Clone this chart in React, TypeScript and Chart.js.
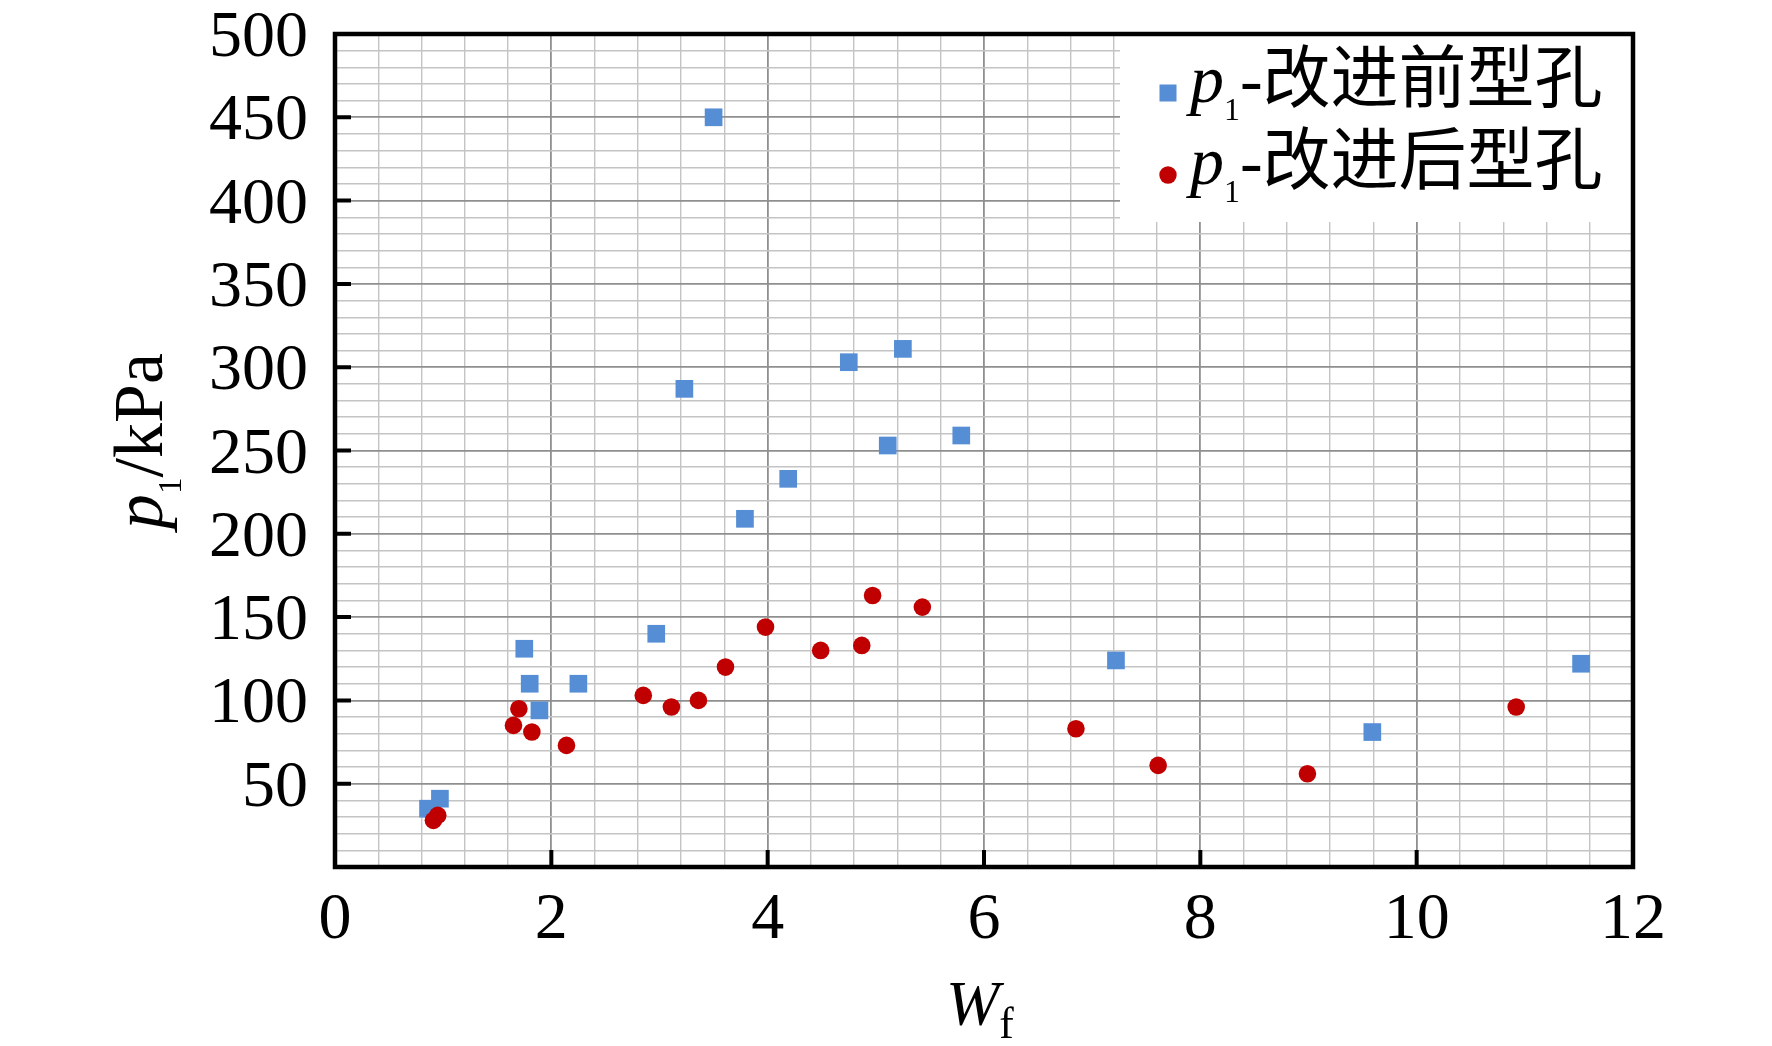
import { Chart, registerables } from "chart.js";
import { useEffect, useRef } from "react";

Chart.register(...registerables);

// W_f values and p1 (kPa)
const beforeWf = [0.86, 0.97, 1.75, 1.8, 1.89, 2.25, 2.97, 3.23, 3.5, 3.79, 4.19, 4.75, 5.11, 5.25, 5.79, 7.22, 9.59, 11.52];
const beforeP1 = [35, 41, 131, 110, 94, 110, 140, 287, 450, 209, 233, 303, 253, 311, 259, 124, 81, 122];

const afterWf = [0.91, 0.95, 1.65, 1.7, 1.82, 2.14, 2.85, 3.11, 3.36, 3.61, 3.98, 4.49, 4.87, 4.97, 5.43, 6.85, 7.61, 8.99, 10.92];
const afterP1 = [28, 31, 85, 95, 81, 73, 103, 96, 100, 120, 144, 130, 133, 163, 156, 83, 61, 56, 96];

const xTickLabels = [0, 2, 4, 6, 8, 10, 12];
const yTickLabels = [50, 100, 150, 200, 250, 300, 350, 400, 450, 500];

const legendLabels = ["改进前型孔", "改进后型孔"];

const BLUE = "#558ED5";
const RED = "#C00000";
const SERIF = '"Liberation Serif", "Times New Roman", "Noto Sans CJK SC", serif';

type Run = { t: string; italic?: boolean; sub?: boolean };

const runFont = (r: Run, size: number, subRatio: number) =>
    `${r.italic ? "italic " : ""}${r.sub ? size * subRatio : size}px ${SERIF}`;

function measureRuns(ctx: CanvasRenderingContext2D, runs: Run[], size: number, subRatio: number) {
    let w = 0;
    for (const r of runs) {
        ctx.font = runFont(r, size, subRatio);
        w += ctx.measureText(r.t).width;
    }
    return w;
}

function drawRuns(ctx: CanvasRenderingContext2D, runs: Run[], x: number, y: number, size: number, subRatio: number, subDrop: number) {
    let cx = x;
    for (const r of runs) {
        ctx.font = runFont(r, size, subRatio);
        ctx.fillText(r.t, cx, r.sub ? y + size * subDrop : y);
        cx += ctx.measureText(r.t).width;
    }
}

const isMult = (v: number, m: number) => Math.abs(v / m - Math.round(v / m)) < 1e-6;

const decorPlugin = {
    id: "decor",
    beforeDatasetsDraw(chart: any) {
        const { ctx, chartArea: a } = chart;
        ctx.save();
        ctx.fillStyle = "#ffffff";
        ctx.fillRect(a.right - 513, a.top, 513, 188);
        ctx.restore();
    },
    afterDraw(chart: any) {
        const { ctx, chartArea: a, scales } = chart;
        const xs = scales.x;
        const ys = scales.y;
        ctx.save();

        // inner tick marks
        ctx.strokeStyle = "#000";
        ctx.lineWidth = 4;
        ctx.beginPath();
        xTickLabels.forEach(v => {
            const px = xs.getPixelForValue(v);
            ctx.moveTo(px, a.bottom);
            ctx.lineTo(px, a.bottom - 17);
        });
        yTickLabels.forEach(v => {
            const py = ys.getPixelForValue(v);
            ctx.moveTo(a.left, py);
            ctx.lineTo(a.left + 16, py);
        });
        ctx.stroke();

        // frame
        ctx.lineWidth = 4.5;
        ctx.strokeRect(a.left, a.top, a.right - a.left, a.bottom - a.top);

        // tick labels
        ctx.fillStyle = "#000";
        ctx.font = `66px ${SERIF}`;
        ctx.textBaseline = "alphabetic";
        ctx.textAlign = "center";
        xTickLabels.forEach(v => ctx.fillText(String(v), xs.getPixelForValue(v), a.bottom + 71));
        ctx.textAlign = "right";
        yTickLabels.forEach(v => ctx.fillText(String(v), a.left - 27, ys.getPixelForValue(v) + 22));

        ctx.textAlign = "left";

        // x title W_f
        const xTitle: Run[] = [{ t: "W", italic: true }, { t: "f", sub: true }];
        drawRuns(ctx, xTitle, 946, 1025, 64, 0.68, 0.2);

        // y title p1/kPa
        const yTitle: Run[] = [{ t: "p", italic: true }, { t: "1", sub: true }, { t: "/kPa" }];
        ctx.save();
        ctx.translate(162, 441);
        ctx.rotate(-Math.PI / 2);
        const yw = measureRuns(ctx, yTitle, 70, 0.47);
        drawRuns(ctx, yTitle, -yw / 2, 0, 70, 0.47, 0.27);
        ctx.restore();

        // legend
        const lx = a.right - 465;
        const rows = [a.top + 68, a.top + 150];
        legendLabels.forEach((label, i) => {
            const by = rows[i];
            const cy = by - 9;
            if (i === 0) {
                ctx.fillStyle = BLUE;
                ctx.fillRect(lx - 8.5, cy - 8.5, 17, 17);
            } else {
                ctx.fillStyle = RED;
                ctx.beginPath();
                ctx.arc(lx, cy, 8.7, 0, Math.PI * 2);
                ctx.fill();
            }
            ctx.fillStyle = "#000";
            const runs: Run[] = [{ t: "p", italic: true }, { t: "1", sub: true }, { t: "-" + label }];
            drawRuns(ctx, runs, lx + 22, by, 68, 0.47, 0.27);
        });

        ctx.restore();
    },
};

export default function App() {
    const canvasRef = useRef<HTMLCanvasElement>(null);
    const chartInstance = useRef<Chart | null>(null);

    useEffect(() => {
        if (!canvasRef.current) return;
        const ctx = canvasRef.current.getContext("2d");
        if (!ctx) return;

        const data = {
            datasets: [
                {
                    label: "p1-改进前型孔",
                    data: beforeWf.map((x, i) => ({ x, y: beforeP1[i] })),
                    pointStyle: "rect",
                    pointRadius: 12.5,
                    pointHoverRadius: 12.5,
                    pointBackgroundColor: BLUE,
                    pointBorderWidth: 0,
                    borderColor: BLUE,
                    backgroundColor: BLUE,
                    order: 1,
                },
                {
                    label: "p1-改进后型孔",
                    data: afterWf.map((x, i) => ({ x, y: afterP1[i] })),
                    pointStyle: "circle",
                    pointRadius: 8.8,
                    pointHoverRadius: 8.8,
                    pointBackgroundColor: RED,
                    pointBorderWidth: 0,
                    borderColor: RED,
                    backgroundColor: RED,
                    order: 0,
                },
            ],
        };

        const gridColor = (ctxArg: any, major: number) =>
            isMult(ctxArg.tick.value, major) ? "#8f8f8f" : "#c4c4c4";
        const gridWidth = (ctxArg: any, major: number) => (isMult(ctxArg.tick.value, major) ? 1.8 : 1.4);

        const config = {
            type: "scatter",
            data: data,
            plugins: [decorPlugin],
            options: {
                responsive: false,
                animation: false,
                devicePixelRatio: 1,
                layout: { padding: { left: 0, top: 34, right: 139, bottom: 0 } },
                plugins: {
                    legend: { display: false },
                    tooltip: { enabled: false },
                    title: { display: false },
                },
                scales: {
                    x: {
                        type: "linear",
                        min: 0,
                        max: 12,
                        border: { display: false },
                        ticks: { display: false, stepSize: 0.4, autoSkip: false },
                        grid: {
                            drawTicks: false,
                            color: (c: any) => gridColor(c, 2),
                            lineWidth: (c: any) => gridWidth(c, 2),
                        },
                        afterFit: (scale: any) => {
                            scale.height = 179;
                        },
                    },
                    y: {
                        type: "linear",
                        min: 0,
                        max: 500,
                        border: { display: false },
                        ticks: { display: false, stepSize: 10, autoSkip: false },
                        grid: {
                            drawTicks: false,
                            color: (c: any) => gridColor(c, 50),
                            lineWidth: (c: any) => gridWidth(c, 50),
                        },
                        afterFit: (scale: any) => {
                            scale.width = 335;
                        },
                    },
                },
            },
        };

        if (chartInstance.current) {
            chartInstance.current.destroy();
        }
        chartInstance.current = new Chart(ctx, config as any);

        return () => {
            if (chartInstance.current) {
                chartInstance.current.destroy();
                chartInstance.current = null;
            }
        };
    }, []);

    return (
        <div style={{ position: "absolute", left: 0, top: 0, width: 1772, height: 1046, background: "#fff" }}>
            <canvas ref={canvasRef} width={1772} height={1046} />
        </div>
    );
}
